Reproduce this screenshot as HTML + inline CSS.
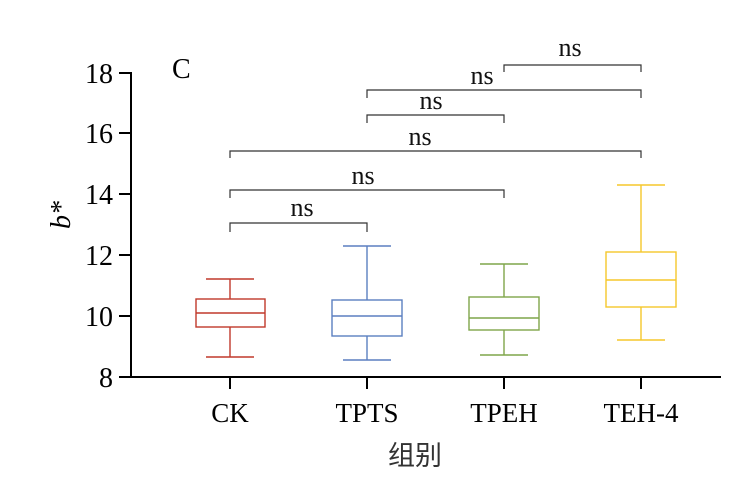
<!DOCTYPE html>
<html><head><meta charset="utf-8"><style>body{margin:0;background:#fff}svg{display:block}</style></head><body>
<svg width="753" height="492" xmlns="http://www.w3.org/2000/svg" font-family="Liberation Serif, serif">
<g stroke="#000" stroke-width="2" fill="none">
<line x1="131" y1="72" x2="131" y2="378"/>
<line x1="130" y1="377" x2="721" y2="377"/>
<line x1="119" y1="73" x2="131" y2="73"/>
<line x1="119" y1="133" x2="131" y2="133"/>
<line x1="119" y1="194" x2="131" y2="194"/>
<line x1="119" y1="255" x2="131" y2="255"/>
<line x1="119" y1="316" x2="131" y2="316"/>
<line x1="119" y1="377" x2="131" y2="377"/>
<line x1="230" y1="377" x2="230" y2="389"/>
<line x1="367" y1="377" x2="367" y2="389"/>
<line x1="504" y1="377" x2="504" y2="389"/>
<line x1="641" y1="377" x2="641" y2="389"/>
</g>
<g font-size="28" text-anchor="end" fill="#000">
<text x="113" y="83">18</text><text x="113" y="143">16</text><text x="113" y="204">14</text>
<text x="113" y="265">12</text><text x="113" y="326">10</text><text x="113" y="387">8</text>
</g>
<text x="172" y="78" font-size="28">C</text>
<text transform="translate(70,215) rotate(-90)" font-size="28" font-style="italic" text-anchor="middle">b*</text>
<g font-size="27" text-anchor="middle">
<text x="230" y="422">CK</text><text x="367" y="422">TPTS</text><text x="504" y="422">TPEH</text><text x="641" y="422">TEH-4</text>
</g>
<text x="415" y="465" font-size="27" text-anchor="middle" fill="#333" font-family="Noto Sans CJK SC, sans-serif">组别</text>
<g fill="none" stroke-width="1.4">
<g stroke="#c0392b"><line x1="230" y1="279" x2="230" y2="357"/><line x1="206" y1="279" x2="254" y2="279"/><line x1="206" y1="357" x2="254" y2="357"/><rect x="196" y="299" width="69" height="28" fill="#fff"/><line x1="196" y1="313" x2="265" y2="313"/></g>
<g stroke="#5b7fc0"><line x1="367" y1="246" x2="367" y2="360"/><line x1="343" y1="246" x2="391" y2="246"/><line x1="343" y1="360" x2="391" y2="360"/><rect x="332" y="300" width="70" height="36" fill="#fff"/><line x1="332" y1="316" x2="402" y2="316"/></g>
<g stroke="#7fa64a"><line x1="504" y1="264" x2="504" y2="355"/><line x1="480" y1="264" x2="528" y2="264"/><line x1="480" y1="355" x2="528" y2="355"/><rect x="469" y="297" width="70" height="33" fill="#fff"/><line x1="469" y1="318" x2="539" y2="318"/></g>
<g stroke="#f5c72c"><line x1="641" y1="185" x2="641" y2="340"/><line x1="617" y1="185" x2="665" y2="185"/><line x1="617" y1="340" x2="665" y2="340"/><rect x="606" y="252" width="70" height="55" fill="#fff"/><line x1="606" y1="280" x2="676" y2="280"/></g>
</g>
<g fill="none" stroke="#333" stroke-width="1.2">
<polyline points="230,232 230,223 367,223 367,232"/>
<polyline points="230,198 230,190 504,190 504,198"/>
<polyline points="230,158 230,151 641,151 641,158"/>
<polyline points="367,123 367,115 504,115 504,123"/>
<polyline points="367,98 367,90 641,90 641,98"/>
<polyline points="504,72 504,65 641,65 641,72"/>
</g>
<g font-size="26" text-anchor="middle" fill="#111">
<text x="302" y="216">ns</text>
<text x="363" y="184">ns</text>
<text x="420" y="145">ns</text>
<text x="431" y="109">ns</text>
<text x="482" y="84">ns</text>
<text x="570" y="56">ns</text>
</g>
</svg>
</body></html>
